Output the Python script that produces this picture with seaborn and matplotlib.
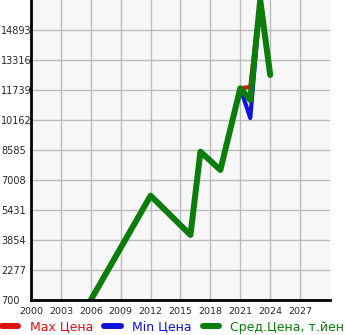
import matplotlib
matplotlib.use("Agg")
import matplotlib.pyplot as plt
import seaborn as sns
import pandas as pd

years = [2006, 2012, 2016, 2017, 2019, 2021, 2022, 2023, 2024]
max_price = [700, 6183, 4117, 8496, 7534, 11830, 11900, 16470, 12528]
min_price = [700, 6183, 4117, 8496, 7534, 11830, 10267, 16470, 12528]
avg_price = [700, 6183, 4117, 8496, 7534, 11830, 11213, 16470, 12528]
labels = ["Max Цена", "Min Цена", "Сред.Цена, т.йен"]
colors = ["#dd1111", "#1111dd", "#0a7d0a"]
y_ticks = [700, 2277, 3854, 5431, 7008, 8585, 10162, 11739, 13316, 14893]
x_ticks = [2000, 2003, 2006, 2009, 2012, 2015, 2018, 2021, 2024, 2027]

sns.set_style("white")
plt.rcParams['font.family'] = ['DejaVu Sans']

fig = plt.figure(figsize=(3.45, 3.35), dpi=100)
ax = fig.add_axes([31/345, 1 - 300/335, 299/345, 300/335])
ax.set_facecolor("#f7f7f7")

df = pd.DataFrame({"year": years, "max": max_price, "min": min_price, "avg": avg_price})
sns.lineplot(data=df, x="year", y="max", ax=ax, color=colors[0], linewidth=3.0, label=labels[0])
sns.lineplot(data=df, x="year", y="min", ax=ax, color=colors[1], linewidth=3.0, label=labels[1])
sns.lineplot(data=df, x="year", y="avg", ax=ax, color=colors[2], linewidth=4.3, label=labels[2])

ax.set_xlim(2000, 2030)
ax.set_ylim(700, 16470)
ax.set_xticks(x_ticks)
ax.set_yticks(y_ticks)
ax.set_xticklabels([str(t) for t in x_ticks], fontsize=6.8)
ax.set_yticklabels([str(t) for t in y_ticks], fontsize=7)
ax.set_xlabel("")
ax.set_ylabel("")
ax.grid(True, color="#bbbbbb", linewidth=1.0)
ax.set_axisbelow(True)

for s in ["top", "right"]:
    ax.spines[s].set_visible(False)
for s in ["left", "bottom"]:
    ax.spines[s].set_color("black")
    ax.spines[s].set_linewidth(2.0)

ax.tick_params(axis="y", length=2.2, width=0.8, color="black", pad=19.4)
ax.tick_params(axis="x", length=2.2, width=0.8, color="black", pad=2.5)
for lab in ax.get_yticklabels():
    lab.set_horizontalalignment("left")

ax.get_legend().remove()
handles, labs = ax.get_legend_handles_labels()
leg = fig.legend(handles, labs, loc="center", bbox_to_anchor=(0.502, 1 - 327/335),
                 ncol=3, frameon=False, fontsize=9.0, handlelength=1.3,
                 handletextpad=0.9, columnspacing=0.9, borderaxespad=0, borderpad=0,
                 labelcolor="linecolor")
for line in leg.get_lines():
    line.set_linewidth(4.3)
    line.set_solid_capstyle("round")

fig.savefig("out.png", dpi=100)
